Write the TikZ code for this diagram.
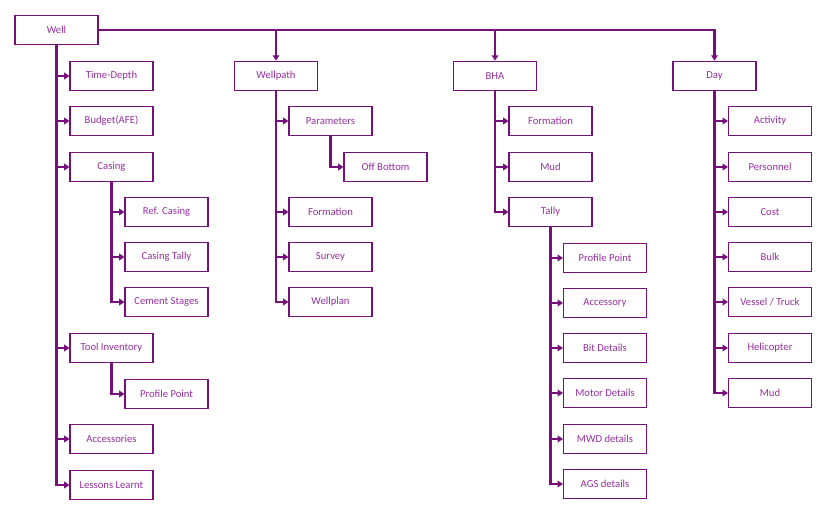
\documentclass[tikz,border=0pt]{standalone}
\usepackage{fontspec}
\setmainfont{Carlito}
\usetikzlibrary{arrows.meta}
\definecolor{lineP}{RGB}{118,16,122}
\definecolor{textP}{RGB}{150,48,160}
\begin{document}
\begin{tikzpicture}[x=0.75pt,y=-0.75pt,
  box/.style={draw=lineP,line width=1.1pt,fill=white,minimum width=62pt,minimum height=22pt,inner sep=0pt,text=textP,font=\fontsize{8}{9}\selectfont},
  conn/.style={draw=lineP,line width=1.6pt,-{Triangle[length=4pt,width=5pt]}},
  plain/.style={draw=lineP,line width=1.6pt}]
\useasboundingbox[fill=white] (0,0) rectangle (840,516);
% top level
\node[box] (well) at (56.5,30) {Well};
\node[box] (wellpath) at (276,76) {Wellpath};
\node[box] (bha) at (495,76) {BHA};
\node[box] (day) at (714.5,76) {Day};
% Well children
\node[box] (td) at (111.5,76) {Time-Depth};
\node[box] (afe) at (111.5,121) {Budget(AFE)};
\node[box] (casing) at (111.5,167) {Casing};
\node[box] (refc) at (166.5,212) {Ref. Casing};
\node[box] (ctally) at (166.5,257) {Casing Tally};
\node[box] (cement) at (166.5,302) {Cement Stages};
\node[box] (tool) at (111.5,348) {Tool Inventory};
\node[box] (pp1) at (166.5,394) {Profile Point};
\node[box] (acc) at (111.5,439) {Accessories};
\node[box] (lessons) at (111.5,485) {Lessons Learnt};
% Wellpath children
\node[box] (param) at (330.5,121) {Parameters};
\node[box] (offb) at (385.5,167) {Off Bottom};
\node[box] (wform) at (330.5,212) {Formation};
\node[box] (survey) at (330.5,257) {Survey};
\node[box] (wplan) at (330.5,302) {Wellplan};
% BHA children
\node[box] (bform) at (550.5,121) {Formation};
\node[box] (bmud) at (550.5,167) {Mud};
\node[box] (tally) at (550.5,212) {Tally};
\node[box] (pp2) at (605,258) {Profile Point};
\node[box] (accy) at (605,303) {Accessory};
\node[box] (bit) at (605,348) {Bit Details};
\node[box] (motor) at (605,393) {Motor Details};
\node[box] (mwd) at (605,439) {MWD details};
\node[box] (ags) at (605,484) {AGS details};
% Day children
\node[box] (act) at (770,121) {Activity};
\node[box] (pers) at (770,167) {Personnel};
\node[box] (cost) at (770,212) {Cost};
\node[box] (bulk) at (770,257) {Bulk};
\node[box] (vessel) at (770,302) {Vessel / Truck};
\node[box] (heli) at (770,348) {Helicopter};
\node[box] (dmud) at (770,393) {Mud};
% top connectors
\draw[conn] (well.east) -| (day.north);
\draw[conn] (well.east -| wellpath.north) -- (wellpath.north);
\draw[conn] (well.east -| bha.north) -- (bha.north);
% Well trunk
\foreach \n in {td,afe,casing,tool,acc,lessons} \draw[conn] (well.south) |- (\n.west);
\foreach \n in {refc,ctally,cement} \draw[conn] (casing.south) |- (\n.west);
\draw[conn] (tool.south) |- (pp1.west);
% Wellpath
\foreach \n in {param,wform,survey,wplan} \draw[conn] (wellpath.south) |- (\n.west);
\draw[conn] (param.south) |- (offb.west);
% BHA
\foreach \n in {bform,bmud,tally} \draw[conn] (bha.south) |- (\n.west);
\foreach \n in {pp2,accy,bit,motor,mwd,ags} \draw[conn] (tally.south) |- (\n.west);
% Day
\foreach \n in {act,pers,cost,bulk,vessel,heli,dmud} \draw[conn] (day.south) |- (\n.west);
\end{tikzpicture}
\end{document}
